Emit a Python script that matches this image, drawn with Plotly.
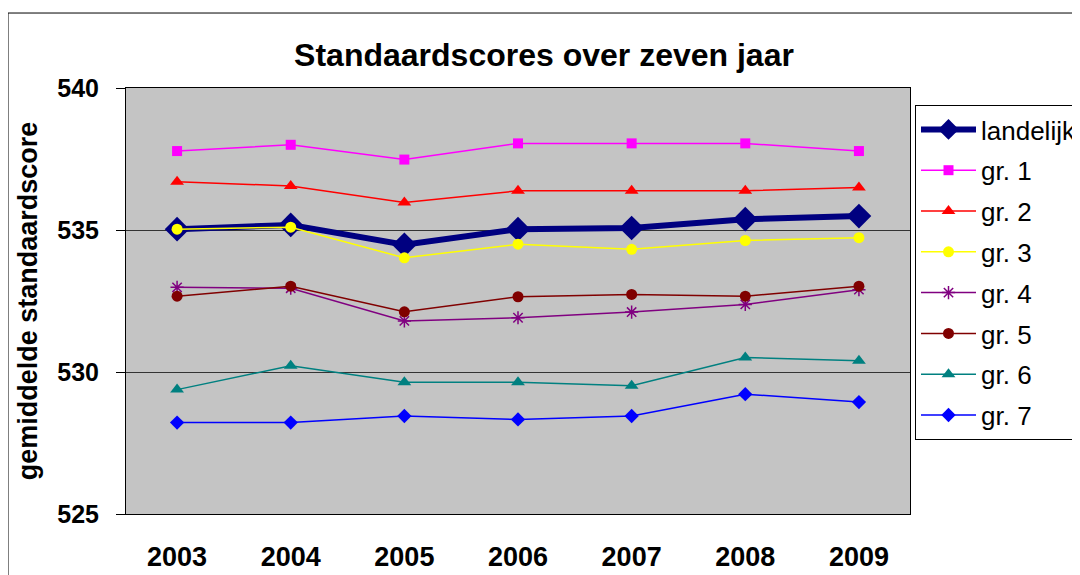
import plotly.graph_objects as go

# jaren en gemiddelde standaardscores per groep
years = ["2003", "2004", "2005", "2006", "2007", "2008", "2009"]

landelijk = [535.03, 535.18, 534.48, 535.03, 535.07, 535.38, 535.49]
gr1 = [537.78, 538.0, 537.48, 538.05, 538.05, 538.05, 537.78]
gr2 = [536.7, 536.55, 535.97, 536.38, 536.38, 536.38, 536.5]
gr3 = [535.03, 535.1, 534.02, 534.5, 534.32, 534.63, 534.73]
gr4 = [532.98, 532.95, 531.8, 531.91, 532.11, 532.38, 532.9]
gr5 = [532.67, 533.02, 532.12, 532.65, 532.73, 532.67, 533.02]
gr6 = [529.38, 530.22, 529.64, 529.64, 529.52, 530.51, 530.4]
gr7 = [528.22, 528.22, 528.45, 528.33, 528.45, 529.22, 528.94]

FONT = "Arial, Liberation Sans, sans-serif"

series = [
    ("landelijk", landelijk, "#000080", "diamond", 19, 6),
    ("gr. 1", gr1, "#FF00FF", "square", 10, 1.5),
    ("gr. 2", gr2, "#FF0000", "triangle-up", 12, 1.5),
    ("gr. 3", gr3, "#FFFF00", "circle", 11, 1.5),
    ("gr. 4", gr4, "#800080", "asterisk-open", 11, 1.5),
    ("gr. 5", gr5, "#800000", "circle", 11, 1.5),
    ("gr. 6", gr6, "#008080", "triangle-up", 12, 1.5),
    ("gr. 7", gr7, "#0000FF", "diamond", 11, 1.5),
]

fig = go.Figure()

for name, vals, color, symbol, msize, lw in series:
    fig.add_trace(go.Scatter(
        x=years, y=vals, name=name, mode="lines+markers", legendgroup=name,
        line=dict(color=color, width=lw),
        marker=dict(symbol=symbol, size=msize, color=color,
                    line=dict(color=color, width=1.5 if symbol == "asterisk-open" else 0)),
    ))

# buitenrand van de grafiek
fig.add_shape(type="rect", xref="paper", yref="paper",
              x0=-0.1505, x1=1.4, y0=-0.3, y1=1.176,
              line=dict(color="black", width=1), layer="below")

# (de pagina heeft 8px body-marge, dus alle posities 8px terug)
fig.update_layout(
    width=1080, height=575,
    margin=dict(l=118, r=178, t=80, b=69, autoexpand=False),
    paper_bgcolor="white", plot_bgcolor="#C4C4C4",
    title=dict(text="<b>Standaardscores over zeven jaar</b>",
               x=536 / 1080, xref="container", xanchor="center",
               y=1 - 47 / 575, yref="container", yanchor="middle",
               font=dict(size=32, color="black", family=FONT), automargin=False),
    xaxis=dict(
        type="category", showgrid=False, ticks="", automargin=False,
        showline=True, linecolor="black", linewidth=1, mirror=True,
        tickfont=dict(size=27, color="black", family=FONT),
        ticklabelstandoff=19,
    ),
    yaxis=dict(
        range=[525, 540], tickvals=[525, 530, 535, 540], automargin=False,
        ticktext=["<b>525</b>", "<b>530</b>", "<b>535</b>", "<b>540</b>"],
        showgrid=True, gridcolor="#333333", gridwidth=1,
        ticks="outside", ticklen=9, tickcolor="black",
        showline=True, linecolor="black", linewidth=1, mirror=True,
        zeroline=False, ticklabelstandoff=12,
        tickfont=dict(size=25, color="black", family=FONT),
        title=dict(text="<b>gemiddelde standaardscore</b>", standoff=11,
                   font=dict(size=27, color="black", family=FONT)),
    ),
    legend=dict(
        x=907 / 1080, xref="container", xanchor="left",
        y=1 - 97 / 575, yref="container", yanchor="top",
        bgcolor="white", bordercolor="black", borderwidth=1,
        font=dict(size=26, color="black", family=FONT),
        itemwidth=55, tracegroupgap=4, maxheight=500,
        entrywidth=190, entrywidthmode="pixels",
    ),
    showlegend=True,
)

fig.update_xaxes(tickvals=years, ticktext=[f"<b>{y}</b>" for y in years])

fig.write_html("out.html")
